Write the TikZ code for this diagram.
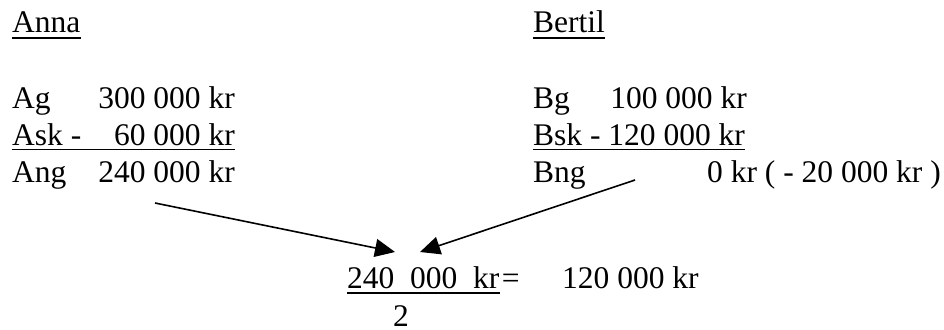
\documentclass[tikz,border=0pt]{standalone}
\usepackage{fontspec}
\setmainfont{Liberation Serif}
\usetikzlibrary{arrows.meta}
\begin{document}
\begin{tikzpicture}[
    x=1pt, y=-1pt,
    txt/.style={
        inner sep=0pt,
        anchor=base west,
        font=\fontsize{31.5}{36}\selectfont
    },
    amt/.style={txt, anchor=base east},
    ul/.style={line width=1.8pt},
    pil/.style={-{Triangle[length=20pt,width=18pt]}, line width=1.6pt}
]
\useasboundingbox (0,0) rectangle (944,329);

% Anna
\node[txt] (anna) at (12,33) {Anna};
\node[txt] (ag) at (12,108) {Ag};
\node[amt] (agv) at (235,108) {300 000 kr};
\node[txt] (ask) at (12,145) {Ask -};
\node[amt] (askv) at (235,145) {60 000 kr};
\node[txt] (ang) at (12,182) {Ang};
\node[amt] (angv) at (235,182) {240 000 kr};

% Bertil
\node[txt] (bertil) at (533,33) {Bertil};
\node[txt] (bg) at (533,108) {Bg};
\node[amt] (bgv) at (747,108) {100 000 kr};
\node[txt] (bsk) at (533,145) {Bsk - 120 000 kr};
\node[txt] (bng) at (533,182) {Bng};
\node[txt] (bngv) at (707,182) {0 kr ( - 20 000 kr )};

% delning
\node[txt] (frac) at (347,288) {240~~000~~kr~};
\node[txt] (eq) at ([xshift=2pt]frac.base east) {=};
\node[txt] (half) at (562,288) {120 000 kr};
\node[txt] (two) at (393,326) {2};

% understrykningar
\draw[ul] ([yshift=-5pt]anna.base west) -- ([yshift=-5pt]anna.base east);
\draw[ul] ([yshift=-5pt]bertil.base west) -- ([yshift=-5pt]bertil.base east);
\draw[ul] ([yshift=-4.5pt]ask.base west) -- ([yshift=-4.5pt]askv.base east);
\draw[ul] ([yshift=-4.5pt]bsk.base west) -- ([yshift=-4.5pt]bsk.base east);
\draw[ul] ([yshift=-5pt]frac.base west) -- ([yshift=-5pt]frac.base east);

% pilar
\coordinate (from a) at (155,203);
\coordinate (from b) at (635,180);
\coordinate (to a) at (395,252);
\coordinate (to b) at (420,252);
\draw[pil] (from a) -- (to a);
\draw[pil] (from b) -- (to b);

\end{tikzpicture}
\end{document}
